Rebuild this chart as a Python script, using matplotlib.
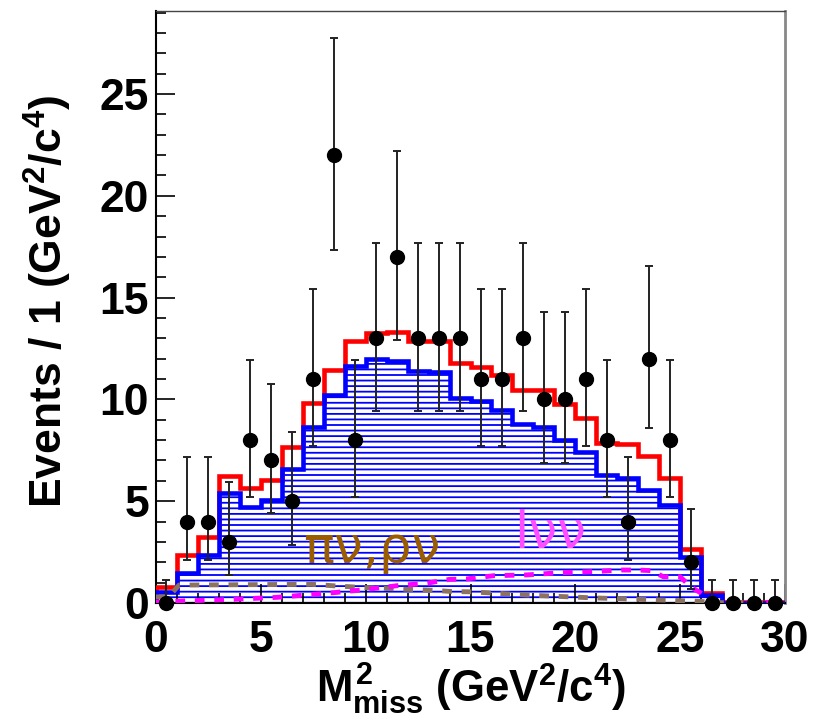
import numpy as np
import matplotlib
matplotlib.use("Agg")
import matplotlib.pyplot as plt

plt.rcParams['font.family'] = ['Liberation Sans', 'DejaVu Sans']
plt.rcParams['mathtext.fontset'] = 'custom'
plt.rcParams['mathtext.rm'] = 'Liberation Sans:bold'
plt.rcParams['mathtext.it'] = 'Liberation Sans:bold'
plt.rcParams['mathtext.bf'] = 'Liberation Sans:bold'
plt.rcParams['hatch.color'] = 'blue'
plt.rcParams['hatch.linewidth'] = 1.3

# ---- data ----
bin_edges = np.arange(0, 31, 1)
data_counts = [0, 4, 4, 3, 8, 7, 5, 11, 22, 8, 13, 17, 13, 13, 13,
               11, 11, 13, 10, 10, 11, 8, 4, 12, 8, 2, 0, 0, 0, 0]
# asymmetric (Poisson) error bar ends
err_low = [0.0, 2.09, 2.09, 1.37, 5.23, 4.42, 2.84, 7.73, 17.35, 5.23, 9.44, 12.93, 9.44, 9.44, 9.44,
           7.73, 7.73, 9.44, 6.89, 6.89, 7.73, 5.23, 2.09, 8.58, 5.23, 0.71, 0.0, 0.0, 0.0, 0.0]
err_high = [1.15, 7.16, 7.16, 5.92, 11.95, 10.77, 8.38, 15.42, 27.73, 11.95, 17.70, 22.18, 17.70, 17.70, 17.70,
            15.42, 15.42, 17.70, 14.27, 14.27, 15.42, 11.95, 7.16, 16.56, 11.95, 4.64, 1.15, 1.15, 1.15, 1.15]

total_fit = [0.80, 2.36, 3.22, 6.25, 5.63, 6.04, 7.65, 9.81, 11.44, 12.88, 13.28, 13.31, 12.88, 12.85, 11.77,
             11.61, 11.18, 10.46, 10.46, 9.76, 9.10, 7.87, 7.81, 7.22, 6.12, 2.65, 0.49, 0.03, 0.03, 0.03]
signal_fit = [0.54, 1.49, 2.36, 5.39, 4.70, 5.06, 6.56, 8.66, 10.22, 11.64, 11.97, 11.89, 11.41, 11.35, 10.05,
              9.94, 9.48, 8.78, 8.66, 8.01, 7.43, 6.29, 6.15, 5.55, 4.81, 2.24, 0.39, 0.02, 0.02, 0.02]

pirho_x = [0.0, 0.6, 1.1, 7.4, 8.7, 10.1, 11.5, 12.9, 14.2, 15.0, 17.7, 20.9, 24.0, 26.0, 26.5, 30.0]
pirho_y = [0.30, 0.30, 0.88, 0.92, 0.83, 0.75, 0.69, 0.64, 0.56, 0.55, 0.39, 0.25, 0.15, 0.08, 0.02, 0.0]

lnn_x = [0.0, 0.5, 1.3, 3.7, 5.8, 7.1, 8.5, 9.8, 11.5, 12.9, 14.0, 14.8, 16.1, 17.7, 19.3, 20.9, 22.2,
         23.0, 23.6, 24.2, 25.0, 25.5, 26.0, 26.5, 30.0]
lnn_y = [0.04, 0.06, 0.10, 0.18, 0.28, 0.39, 0.51, 0.64, 0.85, 0.97, 1.16, 1.18, 1.34, 1.38, 1.49, 1.54, 1.62,
         1.62, 1.59, 1.29, 1.29, 0.80, 0.48, 0.05, 0.02]

x_ticks = [0, 5, 10, 15, 20, 25, 30]
y_ticks = [0, 5, 10, 15, 20, 25]

# ---- figure ----
fig = plt.figure(figsize=(8.15, 7.21), dpi=100)
ax = fig.add_axes([156/815, 1-603/721, (785-156)/815, (603-11)/721])

centers = 0.5 * (bin_edges[:-1] + bin_edges[1:])
counts = np.array(data_counts, float)

# hatched signal area
ax.stairs(signal_fit, bin_edges, fill=True, facecolor='none', edgecolor='blue',
          hatch='---', linewidth=0, zorder=1)
ax.stairs(total_fit, bin_edges, color='red', linewidth=3.3, zorder=3)
ax.stairs(signal_fit, bin_edges, color='blue', linewidth=3.3, zorder=4)

ax.plot(pirho_x, pirho_y, color='#8b7261', linewidth=3.5, linestyle=(0, (2, 2)), zorder=5)
ax.plot(lnn_x, lnn_y, color='#ff00ff', linewidth=3.5, linestyle=(0, (2, 2)), zorder=5)

yerr = [counts - np.array(err_low), np.array(err_high) - counts]
ax.errorbar(centers, counts, yerr=yerr, fmt='o', color='black', markersize=10,
            ecolor='#222222', elinewidth=1.4, capsize=3.2, capthick=1.4, zorder=6, clip_on=False)

ax.text(7.0, 1.96, 'πν,ρν', fontsize=37, color='#9a5c00',
        ha='left', va='baseline', family=['DejaVu Sans'])
ax.text(17.1, 2.7, 'lνν', fontsize=37, color='#ff4dff', ha='left', va='baseline',
        family=['DejaVu Sans'])

ax.set_xlim(0, 30)
ax.set_ylim(0, 29.08)
ax.set_xticks(x_ticks)
ax.set_yticks(y_ticks)
ax.set_xticks(np.arange(0, 31, 1), minor=True)
ax.set_yticks(np.arange(0, 30, 1), minor=True)
ax.tick_params(which='both', direction='in', top=False, right=False, width=1.2)
ax.tick_params(which='major', length=14)
ax.tick_params(which='minor', length=7)
ax.tick_params(axis='y', which='major', pad=5)
ax.tick_params(axis='x', which='major', pad=12)
for lab in ax.get_xticklabels() + ax.get_yticklabels():
    lab.set_fontsize(32)
    lab.set_fontweight('bold')

ax.spines['left'].set_linewidth(1.5)
ax.spines['bottom'].set_linewidth(1.5)
ax.spines['top'].set_linewidth(1.0)
ax.spines['top'].set_color('#444444')
ax.spines['right'].set_linewidth(2.0)
ax.spines['right'].set_color('#888888')

ax.set_ylabel(r'Events / 1 (GeV$^{2}$/c$^{4}$)', fontsize=32, fontweight='bold')
ax.yaxis.set_label_coords(-0.13, 0.51)
ax.set_xlabel(r'$M^{2}_{miss}$ (GeV$^{2}$/c$^{4}$)', fontsize=31.5, fontweight='bold')
ax.xaxis.set_label_coords(0.5, -0.10)

fig.savefig('out.png', dpi=100)
